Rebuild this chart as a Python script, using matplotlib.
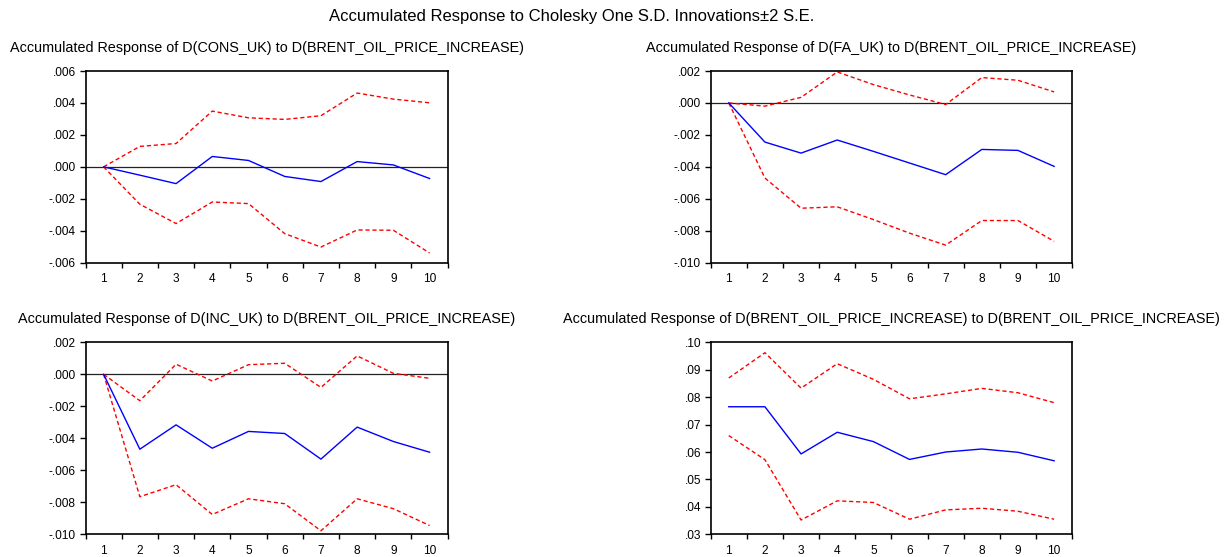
import matplotlib
matplotlib.use('Agg')
import matplotlib.pyplot as plt

plt.rcParams['font.family'] = ['Liberation Sans', 'DejaVu Sans']

# ---------------- data ----------------
periods = [1, 2, 3, 4, 5, 6, 7, 8, 9, 10]
period_labels = ['1', '2', '3', '4', '5', '6', '7', '8', '9', '10']

main_title = 'Accumulated Response to Cholesky One S.D. Innovations\u00b12 S.E.'

title_cons = 'Accumulated Response of D(CONS_UK) to D(BRENT_OIL_PRICE_INCREASE)'
cons_resp = [0.0, -0.00052, -0.00105, 0.00065, 0.00040, -0.00060, -0.00092, 0.00033, 0.00012, -0.00073]
cons_upper = [0.0, 0.00128, 0.00146, 0.00349, 0.00307, 0.00297, 0.00320, 0.00462, 0.00424, 0.00401]
cons_lower = [0.0, -0.00234, -0.00355, -0.00220, -0.00230, -0.00418, -0.00502, -0.00395, -0.00397, -0.00539]
cons_yticks = [-0.006, -0.004, -0.002, 0.0, 0.002, 0.004, 0.006]
cons_ylabels = ['-.006', '-.004', '-.002', '.000', '.002', '.004', '.006']

title_fa = 'Accumulated Response of D(FA_UK) to D(BRENT_OIL_PRICE_INCREASE)'
fa_resp = [0.0, -0.00245, -0.00314, -0.00232, -0.00303, -0.00376, -0.00449, -0.00291, -0.00297, -0.00397]
fa_upper = [0.0, -0.00020, 0.00035, 0.00194, 0.00115, 0.00050, -0.00010, 0.00159, 0.00142, 0.00069]
fa_lower = [0.0, -0.00470, -0.00659, -0.00650, -0.00730, -0.00815, -0.00890, -0.00736, -0.00736, -0.00866]
fa_yticks = [-0.010, -0.008, -0.006, -0.004, -0.002, 0.0, 0.002]
fa_ylabels = ['-.010', '-.008', '-.006', '-.004', '-.002', '.000', '.002']

title_inc = 'Accumulated Response of D(INC_UK) to D(BRENT_OIL_PRICE_INCREASE)'
inc_resp = [0.0, -0.00468, -0.00316, -0.00462, -0.00357, -0.00370, -0.00530, -0.00330, -0.00420, -0.00487]
inc_upper = [0.0, -0.00165, 0.00063, -0.00042, 0.00060, 0.00069, -0.00082, 0.00115, 0.00006, -0.00025]
inc_lower = [0.0, -0.00765, -0.00690, -0.00876, -0.00778, -0.00809, -0.00978, -0.00778, -0.00840, -0.00945]
inc_yticks = [-0.010, -0.008, -0.006, -0.004, -0.002, 0.0, 0.002]
inc_ylabels = ['-.010', '-.008', '-.006', '-.004', '-.002', '.000', '.002']

title_oil = 'Accumulated Response of D(BRENT_OIL_PRICE_INCREASE) to D(BRENT_OIL_PRICE_INCREASE)'
oil_resp = [0.0765, 0.0765, 0.0593, 0.0672, 0.0638, 0.0573, 0.0600, 0.0611, 0.0599, 0.0568]
oil_upper = [0.0870, 0.0962, 0.0833, 0.0922, 0.0865, 0.0794, 0.0812, 0.0832, 0.0816, 0.0780]
oil_lower = [0.0660, 0.0572, 0.0352, 0.0422, 0.0416, 0.0355, 0.0389, 0.0395, 0.0384, 0.0355]
oil_yticks = [0.03, 0.04, 0.05, 0.06, 0.07, 0.08, 0.09, 0.10]
oil_ylabels = ['.03', '.04', '.05', '.06', '.07', '.08', '.09', '.10']

# ---------------- layout ----------------
W, H = 1228, 557
fig = plt.figure(figsize=(W / 100, H / 100), dpi=100)
fig.patch.set_facecolor('white')

def px_axes(x0, y0, x1, y1):
    return [x0 / W, 1 - y1 / H, (x1 - x0) / W, (y1 - y0) / H]

panels = [
    (px_axes(85.5, 71, 447.7, 262.7), title_cons, cons_resp, cons_upper, cons_lower, cons_yticks, cons_ylabels, 47.7),
    (px_axes(710.7, 71, 1072.2, 262.7), title_fa, fa_resp, fa_upper, fa_lower, fa_yticks, fa_ylabels, 47.7),
    (px_axes(85.5, 342.3, 447.7, 534.3), title_inc, inc_resp, inc_upper, inc_lower, inc_yticks, inc_ylabels, 319.3),
    (px_axes(710.7, 342.3, 1072.2, 534.3), title_oil, oil_resp, oil_upper, oil_lower, oil_yticks, oil_ylabels, 319.3),
]

boundaries = [p - 0.5 for p in periods] + [periods[-1] + 0.5]

for rect, title, resp, upper, lower, yt, yl, ty in panels:
    ax = fig.add_axes(rect)
    lo, hi = yt[0], yt[-1]
    if lo < 0 < hi:
        ax.axhline(0, color='#222222', lw=0.9, zorder=1)
    ax.plot(periods, upper, color='#ff0000', lw=1.0, ls=(0, (3, 2)), zorder=2)
    ax.plot(periods, lower, color='#ff0000', lw=1.0, ls=(0, (3, 2)), zorder=2)
    ax.plot(periods, resp, color='#0000ff', lw=1.0, zorder=3)
    ax.set_xlim(boundaries[0], boundaries[-1])
    ax.set_ylim(lo, hi)
    ax.set_xticks(boundaries)
    ax.set_xticklabels([])
    ax.set_xticks(periods, labels=period_labels, minor=True)
    ax.set_yticks(yt, labels=yl)
    ax.tick_params(axis='x', which='major', direction='out', length=3.5, width=1.0, color='black')
    ax.tick_params(axis='x', which='minor', length=0, pad=7.5, labelsize=8.6)
    ax.tick_params(axis='y', which='major', direction='out', length=4, width=1.0, pad=3, labelsize=8.6)
    for s in ax.spines.values():
        s.set_linewidth(1.2)
        s.set_color('black')
    cx = (rect[0] + rect[2] / 2)
    fig.text(cx, 1 - ty / H, title, ha='center', va='center', fontsize=10.4)

fig.text(571.5 / W, 1 - 16.7 / H, main_title, ha='center', va='center', fontsize=12)

fig.savefig('out.png', dpi=100)
